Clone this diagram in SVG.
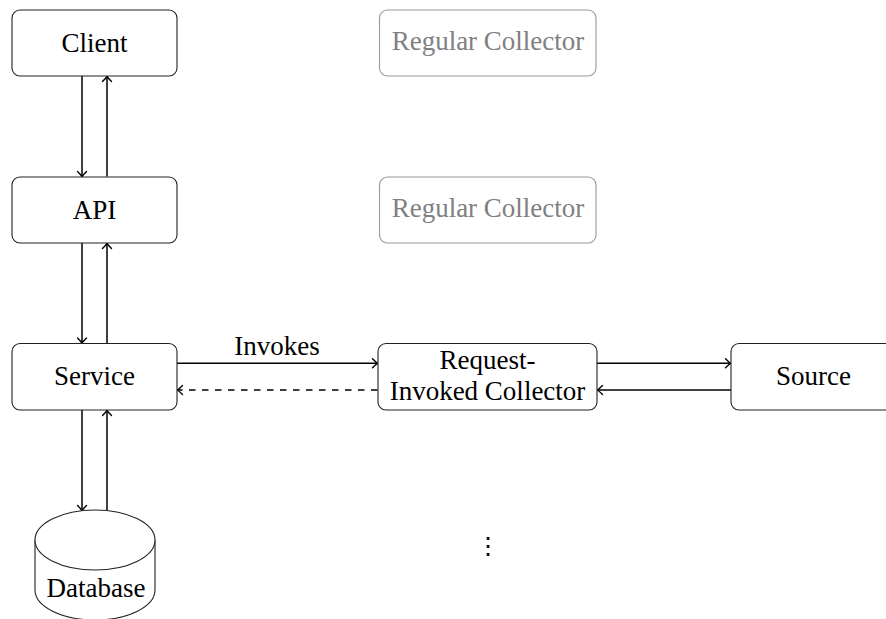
<svg xmlns="http://www.w3.org/2000/svg" width="886" height="619" viewBox="0 0 886 619">
<defs>
<style>
.box{fill:#fff;stroke:#222;stroke-width:1.1}
.gbox{fill:#fff;stroke:#999;stroke-width:1.1}
text{font-family:'Liberation Serif','Tinos','Times New Roman','DejaVu Serif',serif;font-size:27px;text-anchor:middle}
.t{fill:#000}
.gt{fill:#808080}
.c{fill:none;stroke:#000;stroke-width:1.5}
.d{stroke-dasharray:6.5 6.5}
</style>
<marker id="ah" markerUnits="userSpaceOnUse" markerWidth="12" markerHeight="12" viewBox="-7 -6 8 12" refX="0" refY="0" orient="auto">
<path d="M-5,-4.5 Q-1.5,-1 0,0 Q-1.5,1 -5,4.5" fill="none" stroke="#000" stroke-width="1.4" stroke-linecap="round"/>
</marker>
</defs>
<g id="connectors">
<line class="c" x1="82" y1="76" x2="82" y2="176.5" marker-end="url(#ah)"/>
<line class="c" x1="107" y1="176.5" x2="107" y2="76.5" marker-end="url(#ah)"/>
<line class="c" x1="82" y1="243" x2="82" y2="343" marker-end="url(#ah)"/>
<line class="c" x1="107" y1="343" x2="107" y2="243.5" marker-end="url(#ah)"/>
<line class="c" x1="82" y1="410" x2="82" y2="510.5" marker-end="url(#ah)"/>
<line class="c" x1="107" y1="510.6" x2="107" y2="410.5" marker-end="url(#ah)"/>
<line class="c" x1="177" y1="363.3" x2="377.5" y2="363.3" marker-end="url(#ah)"/>
<line class="c d" x1="377.5" y1="390" x2="177.5" y2="390" marker-end="url(#ah)"/>
<text class="t" x="277" y="355" font-family="Liberation Serif, serif">Invokes</text>
<line class="c" x1="597" y1="363.3" x2="730.5" y2="363.3" marker-end="url(#ah)"/>
<line class="c" x1="731" y1="390" x2="597.5" y2="390" marker-end="url(#ah)"/>
</g>
<g id="client">
<rect class="box" x="12" y="10" width="165" height="66" rx="8"/>
<text class="t" x="94.5" y="52">Client</text>
</g>
<g id="regular1">
<rect class="gbox" x="379.5" y="10" width="216.5" height="66" rx="8"/>
<text class="gt" x="488" y="50">Regular Collector</text>
</g>
<g id="api">
<rect class="box" x="12" y="177" width="165" height="66" rx="8"/>
<text class="t" x="94.5" y="219">API</text>
</g>
<g id="regular2">
<rect class="gbox" x="379.5" y="177" width="216.5" height="66" rx="8"/>
<text class="gt" x="488" y="217">Regular Collector</text>
</g>
<g id="service">
<rect class="box" x="12" y="343.5" width="165" height="66.5" rx="8"/>
<text class="t" x="94.5" y="385">Service</text>
</g>
<g id="ric">
<rect class="box" x="378" y="343.5" width="219" height="66.5" rx="8"/>
<text class="t" x="487.5" y="369">Request-</text>
<text class="t" x="487.5" y="400">Invoked Collector</text>
</g>
<g id="source">
<rect class="box" x="731" y="343.5" width="165" height="66.5" rx="8"/>
<text class="t" x="813.5" y="385">Source</text>
</g>
<g id="database">
<path class="box" d="M35,540 L35,590 A60,30 0 0 0 155,590 L155,540"/>
<ellipse class="box" cx="95" cy="540" rx="60" ry="30"/>
<text class="t" x="96" y="597">Database</text>
</g>
<g id="ellipsis">
<text x="488" y="554" style="font-family:'DejaVu Serif',serif;font-size:24px">⋮</text>
</g>
</svg>
